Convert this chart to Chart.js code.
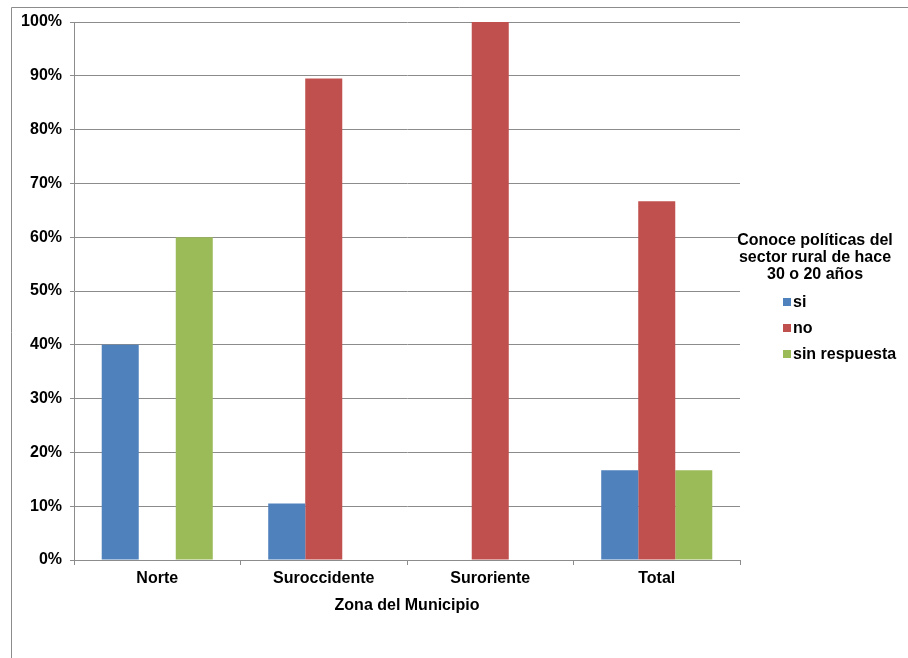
<!DOCTYPE html>
<html>
<head>
<meta charset="utf-8">
<script src="https://cdn.jsdelivr.net/npm/chart.js@4"></script>
<style>
  body { margin: 0; background: #fff; }
  #chart1 { display: block; }
</style>
</head>
<body>
<canvas id="chart1" width="908" height="658"></canvas>
<script>
var zonas = ['Norte', 'Suroccidente', 'Suroriente', 'Total'];
var si = [40, 10.5, 0, 16.7];
var no = [0, 89.5, 100, 66.7];
var sinRespuesta = [60, 0, 0, 16.7];
var tituloLeyenda = ['Conoce políticas del', 'sector rural de hace', '30 o 20 años'];

var fuente = 'Liberation Sans, Arial, sans-serif';
var gris = '#8c8c8c';

// marco + leyenda dibujados a mano
var extras = {
    id: 'extras',
    beforeDraw: function(chart) {
        var c = chart.ctx;
        c.save();
        c.strokeStyle = gris;
        c.lineWidth = 1;
        c.beginPath();
        c.moveTo(11.5, 658);
        c.lineTo(11.5, 7.5);
        c.lineTo(908, 7.5);
        c.stroke();
        c.restore();
    },
    afterDraw: function(chart) {
        var c = chart.ctx;
        c.save();
        c.fillStyle = '#000';
        c.font = 'bold 16px ' + fuente;
        c.textAlign = 'center';
        c.textBaseline = 'middle';
        for (var i = 0; i < tituloLeyenda.length; i++) {
            c.fillText(tituloLeyenda[i], 815, 241 + i * 17);
        }
        c.textAlign = 'left';
        chart.data.datasets.forEach(function(ds, j) {
            var y = 302 + j * 26;
            c.fillStyle = ds.backgroundColor;
            c.fillRect(783, y - 4, 8, 8);
            c.fillStyle = '#000';
            c.fillText(ds.label, 793, y + 1);
        });
        c.restore();
    }
};

var ctx = document.getElementById('chart1').getContext('2d');
var grafico = new Chart(ctx, {
    type: 'bar',
    data: {
        labels: zonas,
        datasets: [
            { label: 'si', data: si, backgroundColor: '#4F81BD' },
            { label: 'no', data: no, backgroundColor: '#C0504D' },
            { label: 'sin respuesta', data: sinRespuesta, backgroundColor: '#9BBB59' }
        ]
    },
    options: {
        responsive: false,
        animation: false,
        layout: { padding: { left: 0, right: 168, top: 22, bottom: 0 } },
        datasets: { bar: { categoryPercentage: 0.667, barPercentage: 1.0 } },
        plugins: { legend: { display: false }, tooltip: { enabled: false } },
        scales: {
            x: {
                afterFit: function(s) { s.height = 98; },
                grid: { offset: true, drawOnChartArea: false, color: gris, tickLength: 5 },
                border: { color: gris },
                ticks: { color: '#000', padding: 4, font: { family: fuente, size: 16, weight: 'bold' } },
                title: {
                    display: true, text: 'Zona del Municipio', color: '#000',
                    font: { family: fuente, size: 16, weight: 'bold' },
                    padding: { top: 0, bottom: 43 }
                }
            },
            y: {
                min: 0, max: 100,
                afterFit: function(s) { s.width = 74; },
                grid: { color: gris, tickLength: 4 },
                border: { color: gris },
                ticks: {
                    stepSize: 10, color: '#000', padding: 8,
                    font: { family: fuente, size: 16, weight: 'bold' },
                    callback: function(v) { return v + '%'; }
                }
            }
        }
    },
    plugins: [extras]
});
</script>
</body>
</html>
